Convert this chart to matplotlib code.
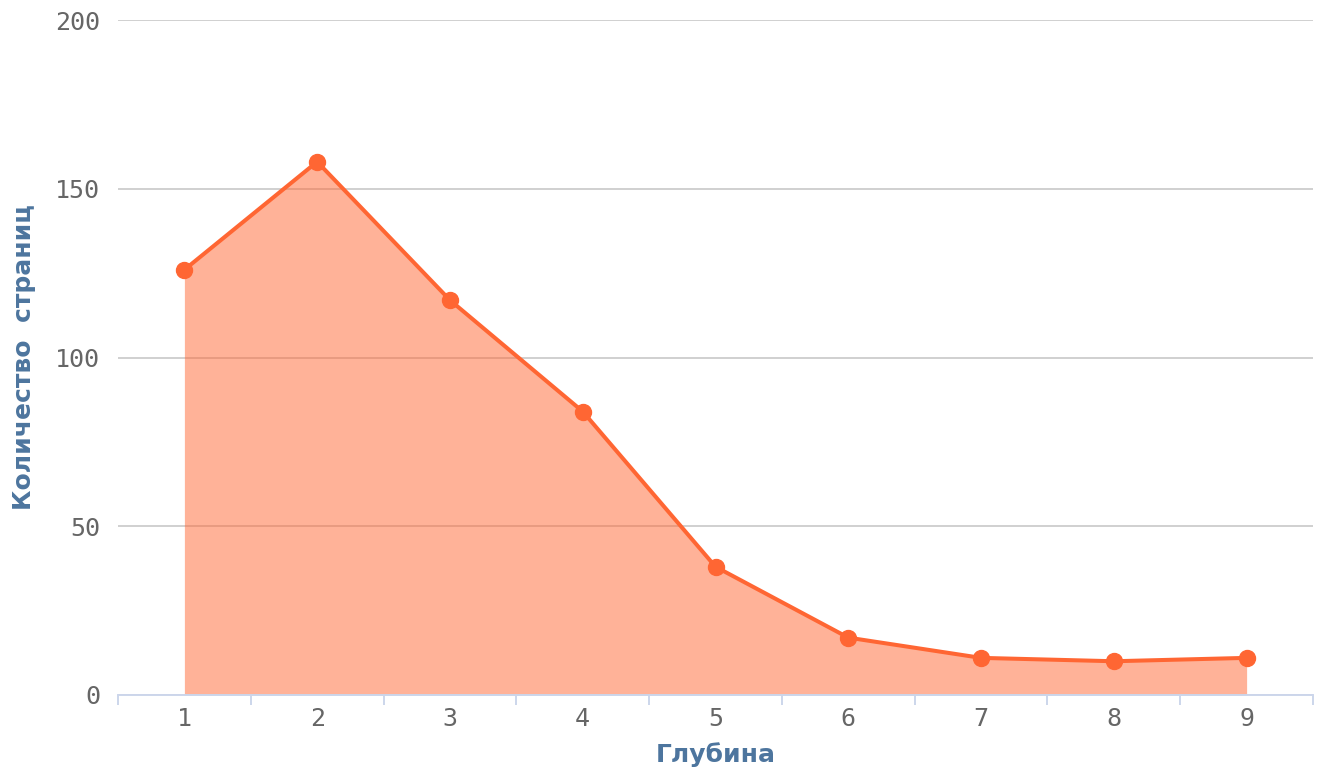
import matplotlib.pyplot as plt
import numpy as np

# depth levels and page counts
depth = [1, 2, 3, 4, 5, 6, 7, 8, 9]
pages = [126, 158, 117, 84, 38, 17, 11, 10, 11]
y_ticks = [0, 50, 100, 150, 200]

line_color = '#ff6633'
title_color = '#4d759e'

fig = plt.figure(figsize=(13.2, 7.69), dpi=100)
ax = fig.add_axes([118 / 1320, 74 / 769, 1195 / 1320, 675 / 769])

ax.fill_between(depth, pages, 0, color=line_color, alpha=0.5, linewidth=0, zorder=2)
ax.plot(depth, pages, color=line_color, linewidth=2.9, marker='o',
        markersize=11.5, zorder=3)

ax.set_xlim(0.5, 9.5)
ax.set_ylim(0, 200)
ax.set_yticks(y_ticks)
ax.set_xticks(depth)
ax.set_xticks(np.arange(0.5, 10, 1), minor=True)

ax.grid(axis='y', color='#d0d0d0', linewidth=1.4, zorder=0)
ax.set_axisbelow(True)

for side in ['top', 'right', 'left']:
    ax.spines[side].set_visible(False)
ax.spines['bottom'].set_color('#ccd6eb')
ax.spines['bottom'].set_linewidth(1.4)

ax.tick_params(axis='y', length=0, pad=13, labelsize=18, labelcolor='#666666')
ax.tick_params(axis='x', which='major', length=0, pad=9, labelsize=18, labelcolor='#666666')
ax.tick_params(axis='x', which='minor', length=7, width=1.4, color='#ccd6eb', direction='out')
for lbl in ax.get_xticklabels() + ax.get_yticklabels():
    lbl.set_fontfamily('DejaVu Sans Mono')

ax.set_xlabel('Глубина', fontsize=18, fontweight='bold', color=title_color, labelpad=8)
ax.set_ylabel('Количество  страниц', fontsize=18, fontweight='bold', color=title_color, labelpad=14)

fig.savefig('out.png', dpi=100)
